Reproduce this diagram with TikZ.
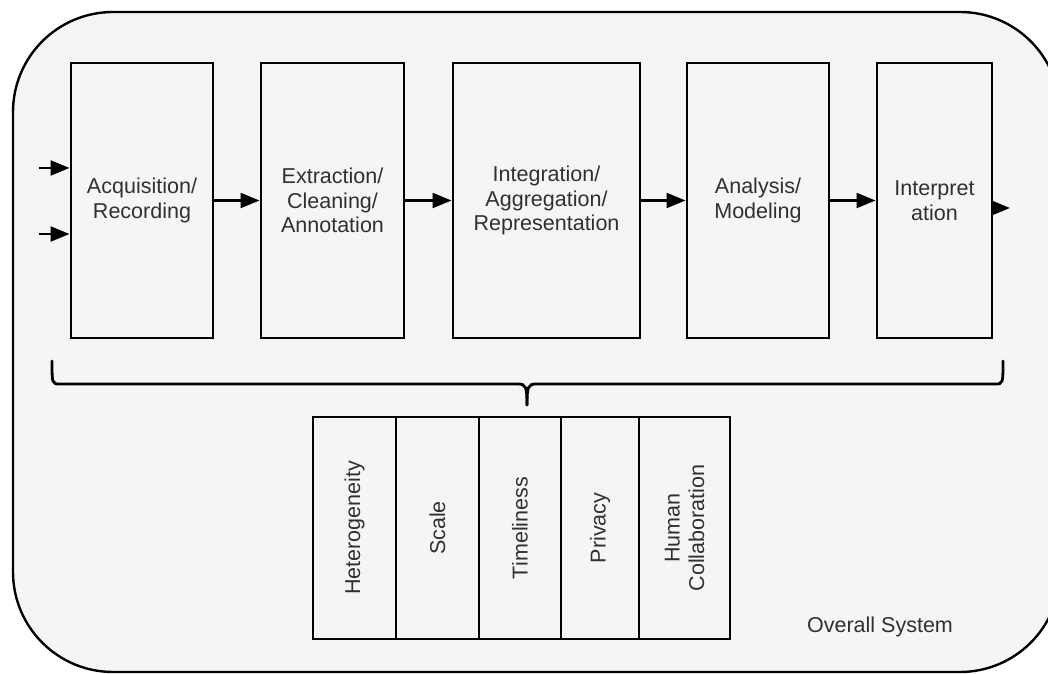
\documentclass[tikz,border=0pt]{standalone}
\usepackage{fontspec}
\setmainfont{Liberation Sans}
\usetikzlibrary{arrows.meta}
\definecolor{bgfill}{HTML}{F5F5F5}
\definecolor{txt}{HTML}{303030}
\tikzset{
  stage/.style={draw=black, line width=2pt, fill=bgfill, minimum height=6.875cm,
    inner sep=2pt, align=center, text=txt, font=\fontsize{15.3}{17.4}\selectfont},
  issue/.style={draw=black, line width=2pt, fill=bgfill, rotate=90, minimum width=5.55cm,
    inner sep=2pt, align=center, text=txt, font=\fontsize{15.3}{17.4}\selectfont},
  arr/.style={line width=2pt, -{Triangle[length=13.5pt,width=10.5pt]}},
  bracepath/.style={line width=2pt, line cap=round}
}
\begin{document}
\begin{tikzpicture}[x=0.025cm, y=-0.025cm]
\useasboundingbox (0,0) rectangle (1048,674);
\clip (0,0) rectangle (1048,674);
\fill[white] (0,0) rectangle (1048,674);
\draw[line width=1.7pt, fill=bgfill, rounded corners=2.5cm] (13,12) rectangle (1060,672);

\node[stage, minimum width=3.55cm]  (s1) at (142,200.5)   {Acquisition/\\Recording};
\node[stage, minimum width=3.575cm] (s2) at (332.5,200.5) {Extraction/\\Cleaning/\\Annotation};
\node[stage, minimum width=4.675cm] (s3) at (546.5,200.5) {Integration/\\Aggregation/\\Representation};
\node[stage, minimum width=3.55cm]  (s4) at (758,200.5)   {Analysis/\\Modeling};
\node[stage, minimum width=2.875cm] (s5) at (934.5,200.5) {Interpret\\ation};

\coordinate (in1) at (39,168);
\coordinate (in2) at (39,234);
\coordinate (out) at (1010,208);
\draw[arr] (in1) -- (in1 -| s1.west);
\draw[arr] (in2) -- (in2 -| s1.west);
\draw[arr] (s1.east) -- (s2.west);
\draw[arr] (s2.east) -- (s3.west);
\draw[arr] (s3.east) -- (s4.west);
\draw[arr] (s4.east) -- (s5.west);
\draw[arr] (s5.east |- out) -- (out);

\draw[bracepath] (52,361) .. controls (52,384) and (52,384) .. (60,384) -- (518,384)
  .. controls (526,384) and (527,387) .. (527,405);
\draw[bracepath] (1003,361) .. controls (1003,384) and (1003,384) .. (995,384) -- (536,384)
  .. controls (528,384) and (527,387) .. (527,405);

\node[issue, minimum height=2.075cm] (i1) at (354.5,528) {Heterogeneity};
\node[issue, minimum height=2.075cm] (i2) at (437.5,528) {Scale};
\node[issue, minimum height=2.05cm]  (i3) at (520,528)   {Timeliness};
\node[issue, minimum height=1.95cm]  (i4) at (600,528)   {Privacy};
\node[issue, minimum height=2.275cm] (i5) at (684.5,528) {Human\\Collaboration};

\node[text=txt, font=\fontsize{15.3}{17.4}\selectfont] (sys) at (880,627) {Overall System};
\end{tikzpicture}
\end{document}
